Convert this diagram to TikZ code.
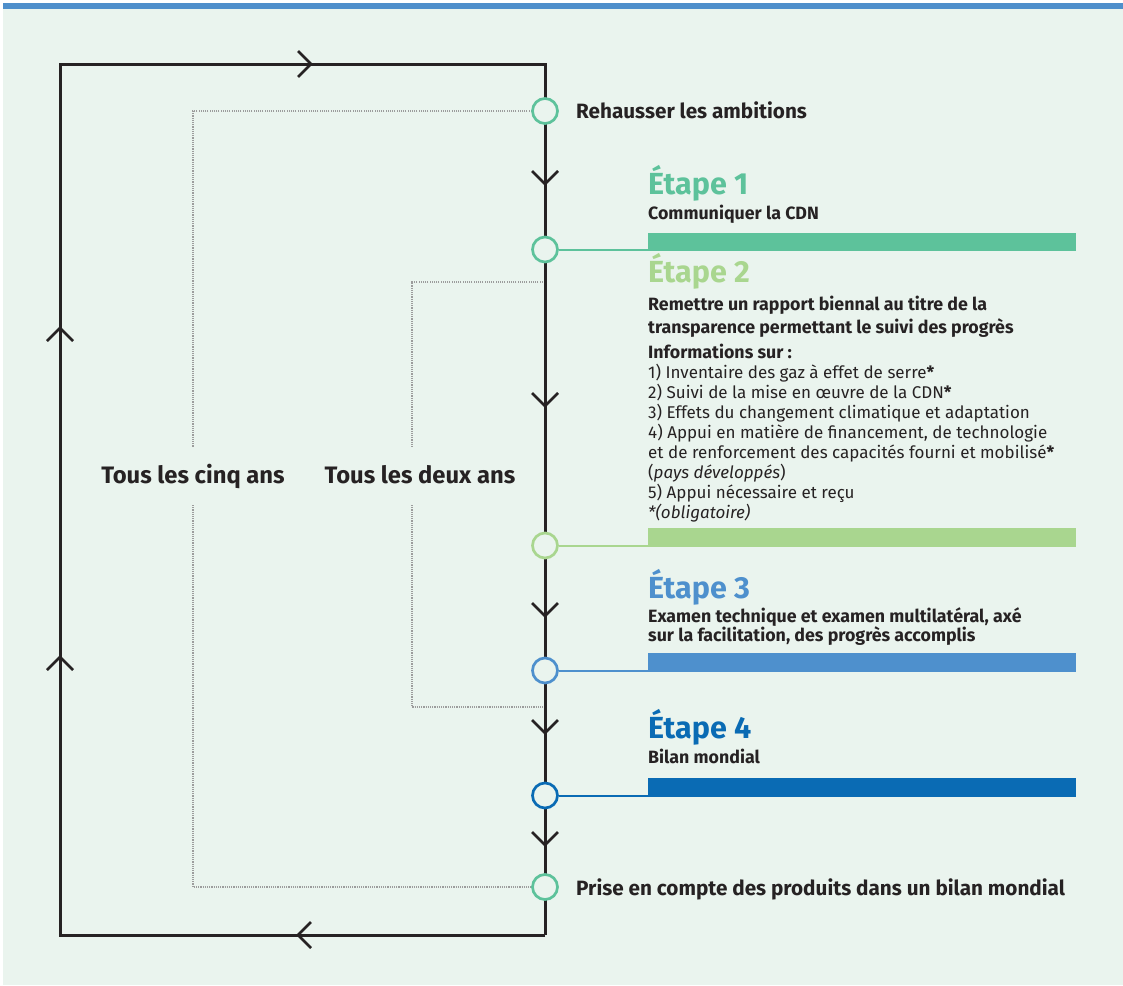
\documentclass[tikz,border=0pt]{standalone}
\usepackage{fontspec}
\setmainfont{Fira Sans}
\usetikzlibrary{calc}

\definecolor{bgc}{HTML}{EAF4EE}
\definecolor{barc}{HTML}{4E8FCB}
\definecolor{stepone}{HTML}{5DC29B}
\definecolor{steptwo}{HTML}{A9D68F}
\definecolor{stepthree}{HTML}{4E90CD}
\definecolor{stepfour}{HTML}{0A6BB4}
\definecolor{ink}{HTML}{262223}
\definecolor{dotc}{HTML}{9C9C9C}

% multi-line nodes are placed by the baseline of their last line
\tikzset{
  loopline/.style={draw=ink, line width=3pt, line cap=butt, line join=miter},
  vee/.pic={\draw[draw=ink, line width=2.6pt, line cap=butt, line join=miter] (-13,-13) -- (0,0) -- (13,-13);},
  ring/.style={circle, draw=#1, line width=2.7pt, fill=bgc, minimum size=25pt, inner sep=0pt},
  link/.style={draw=#1, line width=2pt},
  stepbar/.style={fill=#1, draw=none},
  dotline/.style={draw=dotc, line width=1.1pt, dash pattern=on 1.1pt off 1.1pt},
  title/.style={anchor=base west, inner sep=0pt, text=#1, font=\fontsize{30.5}{30}\selectfont\bfseries},
  lead/.style={anchor=base west, inner sep=0pt, text=ink, font=\fontsize{20.7}{24}\selectfont\bfseries},
  sub/.style={anchor=base west, inner sep=0pt, text=ink, align=left, font=\fontsize{17.8}{#1}\selectfont\bfseries},
  sub/.default=23,
  body/.style={anchor=base west, inner sep=0pt, text=ink, align=left, font=\fontsize{17}{20}\selectfont},
  cycle/.style={anchor=base, inner sep=0pt, text=ink, font=\fontsize{23.8}{24}\selectfont\bfseries},
}

\begin{document}
\begin{tikzpicture}[x=1pt, y=-1pt]
  % canvas, panel and top rule
  \fill[white] (0,0) rectangle (1123,985);
  \useasboundingbox (0,0) rectangle (1123,985);
  \fill[bgc] (3,3) rectangle (1123,985);
  \fill[barc] (3,3) rectangle (1123,9);

  % corners of the main loop
  \coordinate (tr) at (545,64);
  \coordinate (tl) at (60,64);
  \coordinate (bl) at (60,935);
  \coordinate (br) at (545,935);

  % stage bars
  \fill[stepbar=stepone]   (648,233) rectangle (1076,251);
  \fill[stepbar=steptwo]   (648,528) rectangle (1076,547);
  \fill[stepbar=stepthree] (648,653) rectangle (1076,672);
  \fill[stepbar=stepfour]  (648,778) rectangle (1076,797);
  \coordinate (s1) at (648,249.5);
  \coordinate (s2) at (648,545.5);
  \coordinate (s3) at (648,670.5);
  \coordinate (s4) at (648,795.5);

  % dotted brackets for the two cycles
  \coordinate (c5top) at (193,111);
  \coordinate (c5a) at (193,447);
  \coordinate (c5b) at (193,505);
  \coordinate (c5bot) at (193,887);
  \coordinate (c2top) at (412,282);
  \coordinate (c2a) at (412,447);
  \coordinate (c2b) at (412,505);
  \coordinate (c2bot) at (412,707);
  \coordinate (c2r1) at (545,282);
  \coordinate (c2r2) at (545,707);
  \draw[dotline] (545,111) -- (c5top) -- (c5a);
  \draw[dotline] (c5b) -- (c5bot) -- (545,887);
  \draw[dotline] (c2r1) -- (c2top) -- (c2a);
  \draw[dotline] (c2b) -- (c2bot) -- (c2r2);

  % main loop
  \draw[loopline] (br) -- (bl) -- (tl) -- (tr) -- (545,120);
  \draw[loopline] (545,120) -- (br);

  % direction marks
  \pic[rotate=90]  at (311,64)  {vee};
  \pic[rotate=-90] at (298,935) {vee};
  \pic[rotate=180] at (60,328)  {vee};
  \pic[rotate=180] at (60,657)  {vee};
  \pic at (545,184) {vee};
  \pic at (545,406) {vee};
  \pic at (545,616) {vee};
  \pic at (545,733) {vee};
  \pic at (545,845) {vee};

  % milestones on the loop
  \node[ring=stepone]   (r0) at (545,111) {};
  \node[ring=stepone]   (r1) at (545,249.5) {};
  \node[ring=steptwo]   (r2) at (545,545.5) {};
  \node[ring=stepthree] (r3) at (545,670.5) {};
  \node[ring=stepfour]  (r4) at (545,795.5) {};
  \node[ring=stepone]   (r5) at (545,887) {};

  % links from milestones to bars
  \draw[link=stepone]   (r1.east) -- (s1);
  \draw[link=steptwo]   (r2.east) -- (s2);
  \draw[link=stepthree] (r3.east) -- (s3);
  \draw[link=stepfour]  (r4.east) -- (s4);

  % labels
  \node[lead] (t0) at (576,118) {Rehausser les ambitions};
  \node[lead] (t5) at (576,895) {Prise en compte des produits dans un bilan mondial};

  \node[title=stepone] (h1) at (648,194) {Étape 1};
  \node[sub] (d1) at (648,219) {Communiquer la CDN};

  \node[title=steptwo] (h2) at (648,282) {Étape 2};
  \node[sub] (d2) at (648,333) {Remettre un rapport biennal au titre de la\\transparence permettant le suivi des progrès};
  \node[sub] (i2) at (648,358) {Informations sur :};
  \node[body] (l2) at (648,518) {1) Inventaire des gaz à effet de serre\textbf{*}\\
    2) Suivi de la mise en œuvre de la CDN\textbf{*}\\
    3) Effets du changement climatique et adaptation\\
    4) Appui en matière de financement, de technologie\\
    et de renforcement des capacités fourni et mobilisé\textbf{*}\\
    (\textit{pays développés})\\
    5) Appui nécessaire et reçu\\
    \textit{*(obligatoire)}};

  \node[title=stepthree] (h3) at (648,598) {Étape 3};
  \node[sub=19] (d3) at (648,641) {Examen technique et examen multilatéral, axé\\sur la facilitation, des progrès accomplis};

  \node[title=stepfour] (h4) at (648,738) {Étape 4};
  \node[sub] (d4) at (648,763) {Bilan mondial};

  \node[cycle] (k5) at (193,483) {Tous les cinq ans};
  \node[cycle] (k2) at (420,483) {Tous les deux ans};
\end{tikzpicture}
\end{document}
